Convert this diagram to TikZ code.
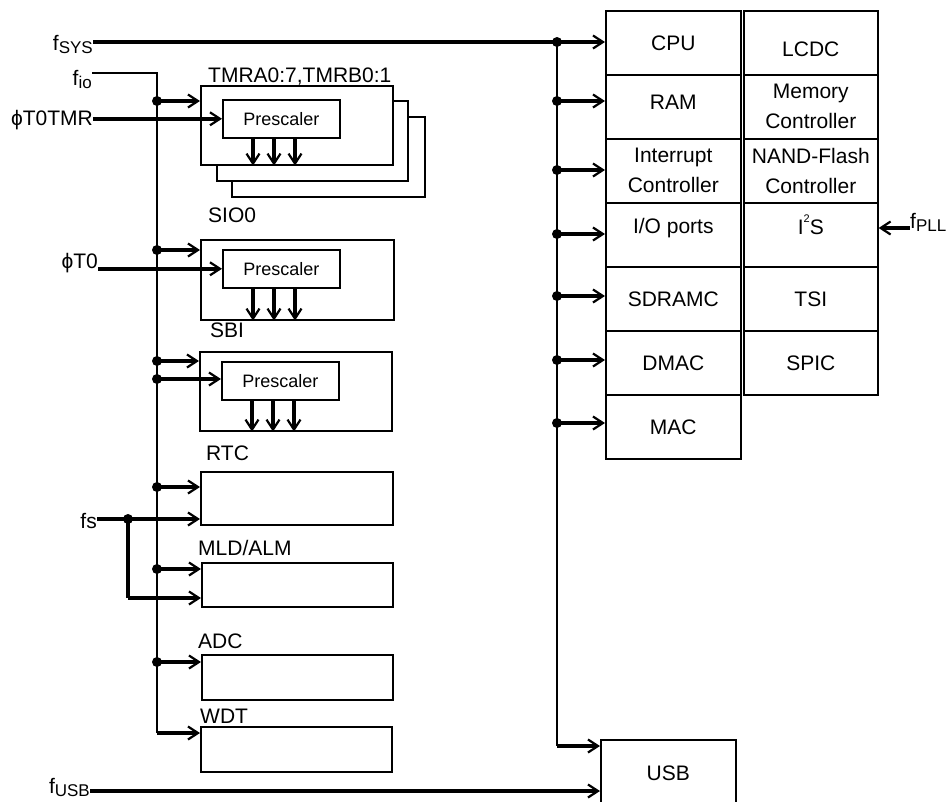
\documentclass[tikz,border=0pt]{standalone}
\usepackage{fontspec}
\setmainfont{Liberation Sans}
\usetikzlibrary{arrows.meta,calc}

\newcommand{\lowsub}[1]{\raisebox{-0.15em}{\fontsize{17}{17}\selectfont #1}}
\newcommand{\shiftup}[2]{\raisebox{#1}[\height][\depth]{#2}}

\begin{document}
\begin{tikzpicture}[x=1pt,y=-1pt,
  font=\fontsize{21}{30}\selectfont,
  box/.style={draw,line width=1.6pt,fill=white,inner sep=0pt,anchor=north west,align=center},
  bus/.style={line width=1.8pt},
  sig/.style={line width=3.4pt,-{Straight Barb[length=10pt,width=13pt,line width=2.2pt]}},
  wire/.style={line width=3.4pt},
  dot/.style={circle,fill,inner sep=0pt,minimum size=10pt},
  title/.style={inner sep=0pt,anchor=base west},
  input/.style={inner sep=0pt,anchor=base east}]
  \useasboundingbox (0,0) rectangle (948,801);

  % timers, stacked
  \node[box,minimum width=193,minimum height=80] (tmrc) at (231,116) {};
  \node[box,minimum width=191,minimum height=80] (tmrb) at (216,100) {};
  \node[box,minimum width=192,minimum height=79] (tmr) at (200,85) {};
  \node[box,minimum width=117,minimum height=38,font=\fontsize{18}{20}\selectfont]
    (pre1) at (222,99) {Prescaler};
  \node[title] at (208,82) {TMRA0:7,TMRB0:1};

  \node[box,minimum width=193,minimum height=80] (sio) at (200,239) {};
  \node[box,minimum width=117,minimum height=38,font=\fontsize{18}{20}\selectfont]
    (pre2) at (222,249) {Prescaler};
  \node[title] at (208,222) {SIO0};

  \node[box,minimum width=192,minimum height=79] (sbi) at (199,351) {};
  \node[box,minimum width=117,minimum height=38,font=\fontsize{18}{20}\selectfont]
    (pre3) at (221,361) {Prescaler};
  \node[title] at (210,337) {SBI};

  \node[box,minimum width=192,minimum height=53] (rtc) at (200,471) {};
  \node[title] at (206,460) {RTC};
  \node[box,minimum width=191,minimum height=44] (mld) at (201,562) {};
  \node[title] at (198,555) {MLD/ALM};
  \node[box,minimum width=191,minimum height=45] (adc) at (201,654) {};
  \node[title] at (198,648) {ADC};
  \node[box,minimum width=191,minimum height=45] (wdt) at (200,726) {};
  \node[title] at (200,723) {WDT};

  % prescaler outputs
  \foreach \dx in {31,52,73} {
    \coordinate (o1) at ([xshift=\dx]pre1.south west);
    \draw[sig] (o1) -- (o1 |- tmr.south);
    \coordinate (o2) at ([xshift=\dx]pre2.south west);
    \draw[sig] (o2) -- (o2 |- sio.south);
    \coordinate (o3) at ([xshift=\dx]pre3.south west);
    \draw[sig] (o3) -- (o3 |- sbi.south);
  }

  % right column
  \node[box,minimum width=135,minimum height=64] (cpu) at (605,10) {CPU};
  \node[box,minimum width=135,minimum height=64] (ram) at (605,74) {\shiftup{5pt}{RAM}};
  \node[box,minimum width=135,minimum height=64] (intc) at (605,138) {Interrupt\\Controller};
  \node[box,minimum width=135,minimum height=64] (iop) at (605,202) {\shiftup{7pt}{I/O ports}};
  \node[box,minimum width=135,minimum height=64] (sdr) at (605,266) {SDRAMC};
  \node[box,minimum width=135,minimum height=64] (dma) at (605,330) {DMAC};
  \node[box,minimum width=135,minimum height=64] (mac) at (605,394) {MAC};
  \node[box,minimum width=134,minimum height=64] (lcdc) at (743,10) {\shiftup{-6pt}{LCDC}};
  \node[box,minimum width=134,minimum height=64] (memc) at (743,74) {Memory\\Controller};
  \node[box,minimum width=134,minimum height=64] (nand) at (743,138) {NAND-Flash\\Controller};
  \node[box,minimum width=134,minimum height=64] (i2s) at (743,202)
    {\shiftup{10pt}{I\raisebox{0.55em}{\fontsize{11}{11}\selectfont 2}S}};
  \node[box,minimum width=134,minimum height=64] (tsi) at (743,266) {TSI};
  \node[box,minimum width=134,minimum height=64] (spic) at (743,330) {SPIC};
  \node[box,minimum width=135,minimum height=66] (usb) at (600,739) {USB};

  % clock inputs
  \node[input] (fsysl) at (93,50) {f\lowsub{SYS}};
  \node[input] (fiol) at (92,85) {f\lowsub{io}};
  \node[input] (phitmr) at (93,125) {ϕT0TMR};
  \node[input] (phit0) at (98,268) {ϕT0};
  \node[input] (fsl) at (97,528) {fs};
  \node[input] (fusbl) at (90,793) {f\lowsub{USB}};
  \node[inner sep=0pt,anchor=base west] (fplll) at (910,228) {f\lowsub{PLL}};

  % left bus taps
  \coordinate (t0) at (157,73);
  \coordinate (t1) at (157,101);
  \coordinate (t2) at (157,250);
  \coordinate (t3) at (157,361);
  \coordinate (t4) at (157,379);
  \coordinate (t5) at (157,487);
  \coordinate (t6) at (157,569);
  \coordinate (t7) at (157,662);
  \coordinate (t8) at (157,733);
  \coordinate (s0) at (128,519);
  \coordinate (s1) at (128,598);

  \draw[bus] (fiol.east |- t0) -- (t0) -- (t8);
  \draw[sig] (t1) -- (t1 -| tmr.west);
  \draw[sig] (t2) -- (t2 -| sio.west);
  \draw[sig] (t3) -- (t3 -| sbi.west);
  \draw[sig] (t4) -- (t4 -| pre3.west);
  \draw[sig] (t5) -- (t5 -| rtc.west);
  \draw[sig] (t6) -- (t6 -| mld.west);
  \draw[sig] (t7) -- (t7 -| adc.west);
  \draw[sig] (t8) -- (t8 -| wdt.west);
  \foreach \t in {t1,t2,t3,t4,t5,t6,t7}
    \node[dot] at (\t) {};

  \draw[sig] (phitmr.east |- pre1.west) -- (pre1.west);
  \draw[sig] (phit0.east |- pre2.west) -- (pre2.west);
  \draw[sig] (fsl.east |- s0) -- (s0 -| rtc.west);
  \draw[wire] (s0) -- (s1);
  \draw[sig] (s1) -- (s1 -| mld.west);
  \node[dot] at (s0) {};

  % right bus taps
  \coordinate (r0) at (557,42);
  \coordinate (r1) at (557,101);
  \coordinate (r2) at (557,170);
  \coordinate (r3) at (557,234);
  \coordinate (r4) at (557,296);
  \coordinate (r5) at (557,360);
  \coordinate (r6) at (557,423);
  \coordinate (r7) at (557,746);
  \coordinate (u0) at (92,791);

  \draw[bus] (r0) -- (r7);
  \draw[sig] (fsysl.east |- r0) -- (r0 -| cpu.west);
  \draw[sig] (r1) -- (r1 -| ram.west);
  \draw[sig] (r2) -- (r2 -| intc.west);
  \draw[sig] (r3) -- (r3 -| iop.west);
  \draw[sig] (r4) -- (r4 -| sdr.west);
  \draw[sig] (r5) -- (r5 -| dma.west);
  \draw[sig] (r6) -- (r6 -| mac.west);
  \draw[sig] (r7) -- (r7 -| usb.west);
  \foreach \r in {r0,r1,r2,r3,r4,r5,r6}
    \node[dot] at (\r) {};

  \draw[sig] (fusbl.east |- u0) -- (u0 -| usb.west);
  \draw[sig] (fplll.base west) -- (fplll.base west -| i2s.east);
\end{tikzpicture}
\end{document}
